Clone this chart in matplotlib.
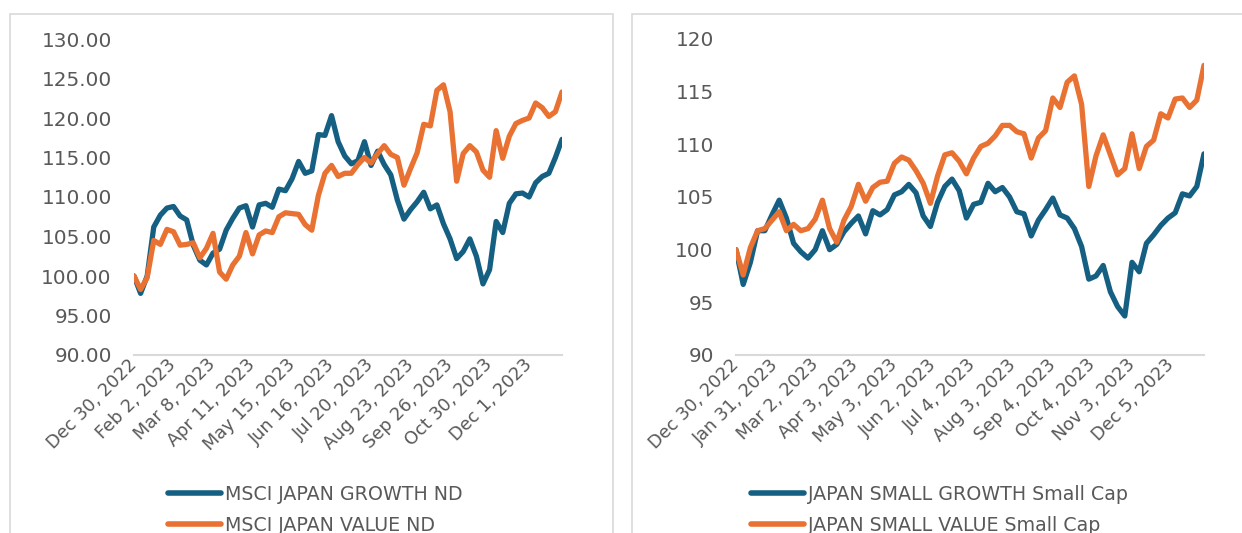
"""
MSCI Japan growth vs value, large and small cap, rebased to 100 (2023).
"""

import matplotlib.pyplot as plt
import matplotlib.patches as patches
import pandas as pd

# trading days on the category axis; values read every 4th trading day
trade_days = pd.bdate_range("2022-12-30", "2023-12-29")
sample_days = trade_days[::4]

left_growth = [
    100.0, 97.8, 100.0, 106.2, 107.7, 108.6, 108.8, 107.6, 107.1, 103.9,
    102.0, 101.4, 102.9, 103.4, 105.8, 107.3, 108.6, 108.9, 106.2, 109.0,
    109.2, 108.7, 111.0, 110.8, 112.3, 114.5, 113.0, 113.3, 117.9, 117.8,
    120.3, 117.0, 115.2, 114.2, 114.6, 117.0, 114.0, 115.8, 114.1, 112.8,
    109.6, 107.2, 108.4, 109.4, 110.6, 108.5, 109.0, 106.6, 104.7, 102.2,
    103.1, 104.7, 102.5, 99.0, 100.8, 106.9, 105.5, 109.2, 110.4, 110.5,
    110.0, 111.8, 112.6, 113.0, 115.0, 117.3,
]
left_value = [
    100.0, 98.3, 99.8, 104.5, 104.0, 105.9, 105.6, 103.9, 104.0, 104.2,
    102.3, 103.5, 105.4, 100.5, 99.6, 101.4, 102.5, 105.5, 102.8, 105.2,
    105.7, 105.5, 107.5, 108.0, 107.9, 107.8, 106.5, 105.8, 110.2, 113.0,
    114.0, 112.6, 113.0, 113.0, 114.1, 115.0, 114.3, 115.5, 116.5, 115.4,
    115.0, 111.5, 113.6, 115.6, 119.2, 119.0, 123.5, 124.2, 120.8, 112.0,
    115.5, 116.5, 115.7, 113.4, 112.5, 118.4, 114.9, 117.7, 119.3, 119.7,
    120.0, 121.9, 121.3, 120.2, 120.8, 123.3,
]
right_growth = [
    100.0, 96.7, 98.8, 101.8, 101.8, 103.3, 104.7, 103.0, 100.6, 99.8,
    99.2, 100.0, 101.8, 100.0, 100.5, 101.7, 102.5, 103.2, 101.5, 103.7,
    103.3, 103.8, 105.2, 105.5, 106.2, 105.4, 103.2, 102.2, 104.5, 106.0,
    106.7, 105.6, 103.0, 104.3, 104.5, 106.3, 105.5, 105.9, 105.0, 103.6,
    103.4, 101.3, 102.8, 103.8, 104.9, 103.3, 103.0, 102.0, 100.3, 97.2,
    97.5, 98.5, 96.0, 94.6, 93.7, 98.8, 97.9, 100.6, 101.4, 102.3,
    103.0, 103.5, 105.3, 105.1, 106.0, 109.1,
]
right_value = [
    100.0, 97.6, 100.2, 101.8, 102.0, 102.8, 103.6, 101.8, 102.4, 101.8,
    102.0, 102.9, 104.7, 102.0, 100.7, 102.8, 104.1, 106.2, 104.6, 105.9,
    106.4, 106.5, 108.2, 108.8, 108.5, 107.5, 106.3, 104.4, 107.0, 109.0,
    109.2, 108.4, 107.2, 108.7, 109.8, 110.1, 110.8, 111.8, 111.8, 111.2,
    111.0, 108.7, 110.6, 111.3, 114.4, 113.5, 115.9, 116.5, 113.8, 106.0,
    108.9, 110.9, 109.0, 107.1, 107.7, 111.0, 107.7, 109.8, 110.4, 112.9,
    112.5, 114.3, 114.4, 113.5, 114.2, 117.5,
]

left_ticks = [
    "Dec 30, 2022", "Feb 2, 2023", "Mar 8, 2023", "Apr 11, 2023",
    "May 15, 2023", "Jun 16, 2023", "Jul 20, 2023", "Aug 23, 2023",
    "Sep 26, 2023", "Oct 30, 2023", "Dec 1, 2023",
]
right_ticks = [
    "Dec 30, 2022", "Jan 31, 2023", "Mar 2, 2023", "Apr 3, 2023",
    "May 3, 2023", "Jun 2, 2023", "Jul 4, 2023", "Aug 3, 2023",
    "Sep 4, 2023", "Oct 4, 2023", "Nov 3, 2023", "Dec 5, 2023",
]
left_labels = ["MSCI JAPAN GROWTH ND", "MSCI JAPAN VALUE ND"]
right_labels = ["JAPAN SMALL GROWTH Small Cap", "JAPAN SMALL VALUE Small Cap"]

BLUE = "#156082"
ORANGE = "#E97132"
GRAY = "#595959"
LIGHT = "#D9D9D9"

plt.rcParams["font.family"] = ["DejaVu Sans"]

W, H = 1242, 533
fig = plt.figure(figsize=(W / 100, H / 100), dpi=100)


def px_box(x0, y_top, x1, y_bottom):
    return [x0 / W, 1 - y_bottom / H, (x1 - x0) / W, (y_bottom - y_top) / H]


def draw_panel(box, axbox, growth, value, ylim, yfmt, ticks, labels, leg_x):
    # light grey chart-area border, cut off at the bottom like the source
    x0, x1, y_top = box
    fig.patches.append(patches.Rectangle(
        (x0 / W, -0.05), (x1 - x0) / W, 1.05 - y_top / H,
        transform=fig.transFigure, fill=False, ec=LIGHT, lw=1.2))

    ax = fig.add_axes(axbox)
    x = trade_days.get_indexer(sample_days)
    lg, = ax.plot(x, growth, color=BLUE, lw=3.8,
                  solid_joinstyle="round", solid_capstyle="round")
    lv, = ax.plot(x, value, color=ORANGE, lw=3.8,
                  solid_joinstyle="round", solid_capstyle="round")

    ax.set_xlim(0, len(trade_days) - 1)
    ax.set_ylim(*ylim)
    ax.set_yticks(range(ylim[0], ylim[1] + 1, 5))
    ax.yaxis.set_major_formatter(yfmt)

    tick_pos = trade_days.get_indexer(pd.to_datetime(ticks, format="%b %d, %Y"))
    ax.set_xticks(tick_pos)
    ax.set_xticklabels(ticks, rotation=45, ha="right", va="center",
                       rotation_mode="anchor")

    for side in ["top", "right", "left"]:
        ax.spines[side].set_visible(False)
    ax.spines["bottom"].set_color(LIGHT)
    ax.spines["bottom"].set_linewidth(1.5)
    ax.tick_params(axis="both", length=0, colors=GRAY)
    ax.tick_params(axis="y", labelsize=14.4, pad=16)
    ax.tick_params(axis="x", labelsize=12.8, pad=5)

    leg = ax.legend(
        [lg, lv], labels, loc="upper left",
        bbox_to_anchor=(leg_x / W, 1 - 485 / H), bbox_transform=fig.transFigure,
        frameon=False, fontsize=13.7, handlelength=2.8, handletextpad=0.2,
        labelspacing=0.62, borderpad=0, borderaxespad=0,
    )
    for t in leg.get_texts():
        t.set_color(GRAY)
    for h in leg.legend_handles:
        h.set_linewidth(4.0)
    return ax


draw_panel((10, 613, 14), px_box(134, 39, 562, 355), left_growth, left_value,
           (90, 130), "{x:.2f}", left_ticks, left_labels, 168)
draw_panel((632, 1250, 14), px_box(736, 39, 1204, 355), right_growth, right_value,
           (90, 120), "{x:.0f}", right_ticks, right_labels, 751)

fig.savefig("out.png", dpi=100)
